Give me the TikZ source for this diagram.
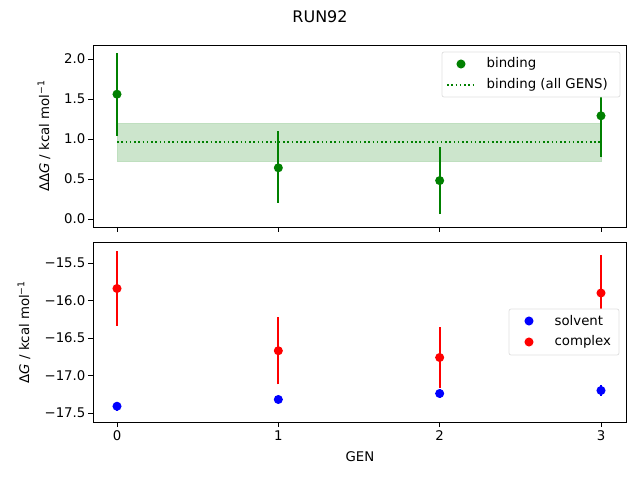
\documentclass[tikz,border=0pt]{standalone}
\usepackage{fontspec}
\setmainfont{DejaVu Sans}
\definecolor{mplgreen}{RGB}{0,128,0}
\newcommand{\Gx}[1]{117+161.33*#1}
\newcommand{\Ty}[1]{219-80*(#1)}
\newcommand{\By}[1]{263-75*((#1)+15.5)}
\newcommand{\unitlbl}{ / kcal mol\textsuperscript{−1}}
\tikzset{
  tick/.style={line width=0.6pt},
  ticklbl/.style={font=\fontsize{10}{12}\selectfont, inner sep=1pt},
  errbar/.style={line width=1.5pt},
  dot/.style={circle, fill, inner sep=0pt, minimum size=6.8pt},
  legendbox/.style={draw=black!12, fill=white, rounded corners=1.5pt, line width=0.6pt}
}
\begin{document}
\begin{tikzpicture}[x=0.0264cm, y=-0.0264cm]
  \useasboundingbox (0,0) rectangle (640,480);
  \node[font=\fontsize{12}{14}\selectfont] (title) at (320,17) {RUN92};

  % top panel: binding
  \fill[mplgreen!20] ({\Gx{0}},{\Ty{0.72}}) rectangle ({\Gx{3}},{\Ty{1.2}});
  \draw[mplgreen!25, line width=0.6pt] ({\Gx{0}},{\Ty{0.72}}) rectangle ({\Gx{3}},{\Ty{1.2}});
  \draw[mplgreen, dotted, line width=1.2pt] ({\Gx{0}},{\Ty{0.96}}) -- ({\Gx{3}},{\Ty{0.96}});
  \foreach \g/\v/\lo/\hi in {0/1.56/1.04/2.07, 1/0.64/0.20/1.10, 2/0.48/0.06/0.90, 3/1.29/0.78/1.80}{
    \draw[errbar, mplgreen] ({\Gx{\g}},{\Ty{\lo}}) -- ({\Gx{\g}},{\Ty{\hi}});
    \node[dot, mplgreen] (bind\g) at ({\Gx{\g}},{\Ty{\v}}) {};
  }
  \draw[line width=0.6pt] (93,45) rectangle (626,227);
  \foreach \v in {0.0,0.5,1.0,1.5,2.0}{
    \draw[tick] (93,{\Ty{\v}}) -- (88,{\Ty{\v}});
    \node[ticklbl, anchor=east] (ty\v) at (87,{\Ty{\v}}) {\v};
  }
  \foreach \g in {0,...,3}
    \draw[tick] ({\Gx{\g}},227) -- ({\Gx{\g}},232);
  \node[ticklbl, rotate=90] (toplbl) at (44,136) {ΔΔ\textit{G}\unitlbl};
  \draw[legendbox] (442,52) rectangle (620,97);
  \node[dot, mplgreen] (legbind) at (461,64) {};
  \node[ticklbl, anchor=west] (legbindtxt) at (485,64) {binding};
  \draw[mplgreen, dotted, line width=1.2pt] (447,85) -- (475,85);
  \node[ticklbl, anchor=west] (legalltxt) at (485,85) {binding (all GENS)};

  % bottom panel: solvent and complex
  \foreach \g/\v/\e in {0/-15.84/0.50, 1/-16.67/0.45, 2/-16.76/0.41, 3/-15.90/0.50}{
    \draw[errbar, red] ({\Gx{\g}},{\By{\v-\e}}) -- ({\Gx{\g}},{\By{\v+\e}});
    \node[dot, red] (cplx\g) at ({\Gx{\g}},{\By{\v}}) {};
  }
  \foreach \g/\v/\e in {0/-17.41/0.06, 1/-17.32/0.05, 2/-17.24/0.06, 3/-17.20/0.07}{
    \draw[errbar, blue] ({\Gx{\g}},{\By{\v-\e}}) -- ({\Gx{\g}},{\By{\v+\e}});
    \node[dot, blue] (solv\g) at ({\Gx{\g}},{\By{\v}}) {};
  }
  \draw[line width=0.6pt] (93,242) rectangle (626,422);
  \foreach \v/\t in {-15.5/15.5,-16.0/16.0,-16.5/16.5,-17.0/17.0,-17.5/17.5}{
    \draw[tick] (93,{\By{\v}}) -- (88,{\By{\v}});
    \node[ticklbl, anchor=east] (by\t) at (87,{\By{\v}}) {−\t};
  }
  \foreach \g in {0,...,3}{
    \draw[tick] ({\Gx{\g}},422) -- ({\Gx{\g}},427);
    \node[ticklbl, anchor=north] (gx\g) at ({\Gx{\g}},429) {\g};
  }
  \node[ticklbl] (xlbl) at (360,457) {GEN};
  \node[ticklbl, rotate=90] (botlbl) at (24,332) {Δ\textit{G}\unitlbl};
  \draw[legendbox] (509,309) rectangle (619,355);
  \node[dot, blue] (legsolv) at (529,321) {};
  \node[ticklbl, anchor=west] (legsolvtxt) at (553,321) {solvent};
  \node[dot, red] (legcplx) at (529,342) {};
  \node[ticklbl, anchor=west] (legcplxtxt) at (553,342) {complex};
\end{tikzpicture}
\end{document}
